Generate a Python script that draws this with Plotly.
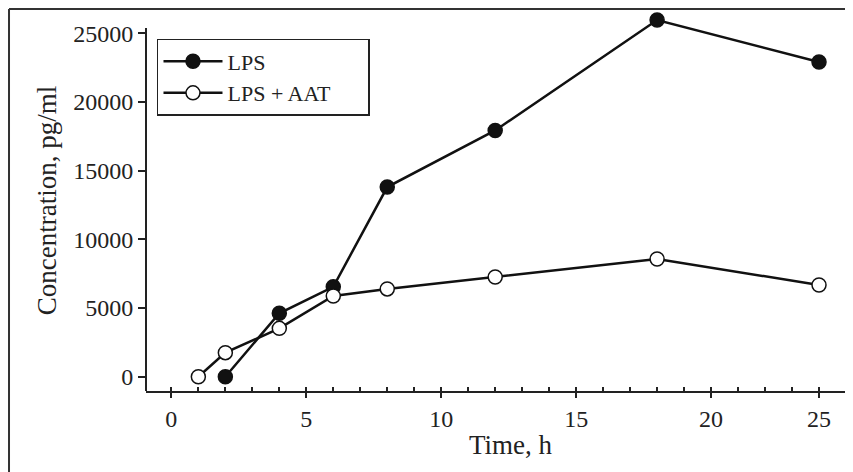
import plotly.graph_objects as go

# time points (h)
time_lps = [2, 4, 6, 8, 12, 18, 24]
time_aat = [1, 2, 4, 6, 8, 12, 18, 24]

# concentration, pg/ml
lps = [0, 4620, 6550, 13810, 17930, 25970, 22910]
lps_aat = [0, 1750, 3520, 5880, 6390, 7260, 8570, 6680]

x_tickvals = [0, 5, 10, 15, 20, 24]
x_ticktext = ["0", "5", "10", "15", "20", "25"]
y_tickvals = [0, 5000, 10000, 15000, 20000, 25000]
y_ticktext = ["0", "5000", "10000", "15000", "20000", "25000"]

FONT = "Liberation Serif"
INK = "#222222"

fig = go.Figure()

fig.add_trace(go.Scatter(
    x=time_lps, y=lps, name="LPS",
    mode="lines+markers",
    line=dict(color="#111111", width=2.5),
    marker=dict(symbol="circle", size=14, color="#111111",
                line=dict(color="#111111", width=1.5)),
    cliponaxis=False
))

fig.add_trace(go.Scatter(
    x=time_aat, y=lps_aat,
    # trailing no-break spaces pad the legend box out to the original width
    name="LPS + AAT" + "\u00a0" * 6,
    mode="lines+markers",
    line=dict(color="#111111", width=2.5),
    marker=dict(symbol="circle", size=14, color="white",
                line=dict(color="#111111", width=1.5)),
    cliponaxis=False
))

fig.update_layout(
    width=853, height=472,
    margin=dict(l=138, r=15, t=2, b=89),
    paper_bgcolor="white", plot_bgcolor="white",
    font=dict(family=FONT, size=24, color=INK),
    showlegend=True,
    legend=dict(
        x=0.0157, y=0.924, xanchor="left", yanchor="top",
        bordercolor=INK, borderwidth=1.5,
        bgcolor="white",
        font=dict(family=FONT, size=22, color=INK),
        tracegroupgap=0, itemwidth=59
    ),
    xaxis=dict(
        range=[-0.94, 25], showgrid=False, zeroline=False,
        showline=True, linecolor=INK, linewidth=2,
        tickmode="array", tickvals=x_tickvals, ticktext=x_ticktext,
        ticks="outside", ticklen=5, tickwidth=1.5, tickcolor=INK,
        minor=dict(dtick=1, tick0=0, ticks="inside", ticklen=4,
                   tickwidth=1.5, tickcolor=INK),
        tickfont=dict(family=FONT, size=24, color=INK)
    ),
    yaxis=dict(
        range=[-1040, 26700], showgrid=False, zeroline=False,
        showline=False,
        tickmode="array", tickvals=y_tickvals, ticktext=y_ticktext,
        ticks="outside", ticklen=7, tickwidth=1.5, tickcolor=INK,
        title=dict(text="Concentration, pg/ml", standoff=8,
                   font=dict(family=FONT, size=27, color=INK)),
        tickfont=dict(family=FONT, size=24, color=INK)
    )
)

# x-axis title, sitting a little right of centre as in the original
fig.add_annotation(text="Time, h", xref="paper", yref="paper",
                   x=0.521, y=-0.097, xanchor="center", yanchor="top",
                   showarrow=False,
                   font=dict(family=FONT, size=27, color=INK))

# y-axis line stops just above the 25000 tick
fig.add_shape(type="line", xref="paper", yref="y",
              x0=0, x1=0, y0=-1040, y1=25390,
              line=dict(color=INK, width=2))

# outer frame (top and left edges visible)
fig.add_shape(type="line", xref="paper", yref="paper",
              x0=-0.1957, x1=1.03, y0=1.0026, y1=1.0026,
              line=dict(color="#333333", width=2))
fig.add_shape(type="line", xref="paper", yref="paper",
              x0=-0.1957, x1=-0.1957, y0=1.0026, y1=-0.24,
              line=dict(color="#333333", width=2))

fig.write_html("out.html")
